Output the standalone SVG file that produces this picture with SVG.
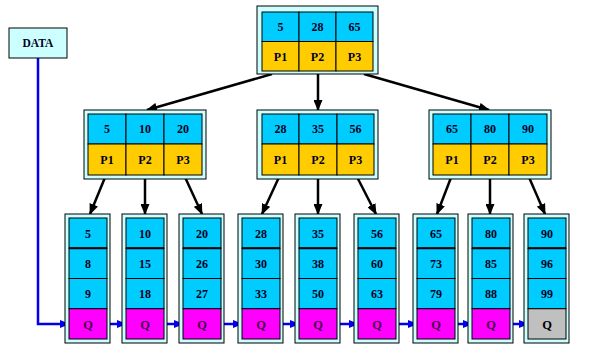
<svg xmlns="http://www.w3.org/2000/svg" width="606" height="353" viewBox="0 0 606 353">
<style>
.frame{fill:#ccffff;stroke:#000;stroke-width:1}
.k{fill:#00ccff;stroke:#000;stroke-width:1}
.p{fill:#ffcc00;stroke:#000;stroke-width:1}
.q{fill:#ff00ff;stroke:#000;stroke-width:1}
.nil{fill:#c0c0c0;stroke:#000;stroke-width:1}
.sep{stroke:#000;stroke-width:2}
text{font-family:"Liberation Serif","Times New Roman",serif;font-weight:bold;font-size:12px;text-anchor:middle;fill:#000022}
text.ql{font-weight:bold;font-size:12.5px;fill:#4a004a}
.ar{stroke:#000;stroke-width:2.5;fill:none;marker-end:url(#ah)}
.bl{stroke:#0000ee;stroke-width:2.5;fill:none;marker-end:url(#bh)}
</style>
<defs>
<marker id="ah" markerUnits="userSpaceOnUse" markerWidth="11" markerHeight="9" refX="10" refY="4.5" orient="auto"><path d="M0,0 L11,4.5 L0,9 z" fill="#000"/></marker>
<marker id="bh" markerUnits="userSpaceOnUse" markerWidth="10" markerHeight="8" refX="9" refY="4" orient="auto"><path d="M0,0 L10,4 L0,8 z" fill="#0000ee"/></marker>
</defs>
<rect width="606" height="353" fill="#fff"/>

<g id="connectors">
<line class="ar" x1="272" y1="74" x2="147" y2="110"/>
<line class="ar" x1="318" y1="74" x2="318" y2="110"/>
<line class="ar" x1="364" y1="74" x2="489" y2="110"/>
<line class="ar" x1="106" y1="175" x2="90" y2="214"/>
<line class="ar" x1="145" y1="175" x2="145" y2="214"/>
<line class="ar" x1="184" y1="175" x2="202" y2="214"/>
<line class="ar" x1="280" y1="175" x2="262" y2="214"/>
<line class="ar" x1="318" y1="175" x2="318" y2="214"/>
<line class="ar" x1="356" y1="175" x2="376" y2="214"/>
<line class="ar" x1="452" y1="175" x2="437" y2="214"/>
<line class="ar" x1="490" y1="175" x2="490" y2="214"/>
<line class="ar" x1="528" y1="175" x2="545" y2="214"/>
<path class="bl" d="M38,58 V324 H69"/>
<line class="bl" x1="107" y1="324" x2="126" y2="324"/>
<line class="bl" x1="164" y1="324" x2="183" y2="324"/>
<line class="bl" x1="221" y1="324" x2="242" y2="324"/>
<line class="bl" x1="280" y1="324" x2="299" y2="324"/>
<line class="bl" x1="337" y1="324" x2="358" y2="324"/>
<line class="bl" x1="396" y1="324" x2="417" y2="324"/>
<line class="bl" x1="455" y1="324" x2="472" y2="324"/>
<line class="bl" x1="510" y1="324" x2="528" y2="324"/>
</g>

<g id="data">
<rect x="9" y="28" width="58" height="30" fill="#ccffff" stroke="#000"/>
<text x="38" y="47" style="font-size:11.5px">DATA</text>
</g>

<g id="root">
<rect class="frame" x="257" y="6" width="121" height="68"/>
<rect class="k" x="262" y="12" width="37" height="29.5"/><rect class="k" x="299" y="12" width="37" height="29.5"/><rect class="k" x="336" y="12" width="37" height="29.5"/>
<rect class="p" x="262" y="41.5" width="37" height="29.5"/><rect class="p" x="299" y="41.5" width="37" height="29.5"/><rect class="p" x="336" y="41.5" width="37" height="29.5"/>
<text x="280.5" y="31">5</text><text x="317.5" y="31">28</text><text x="354.5" y="31">65</text>
<text x="280.5" y="60.5">P1</text><text x="317.5" y="60.5">P2</text><text x="354.5" y="60.5">P3</text>
</g>

<g id="n-left">
<rect class="frame" x="84" y="110" width="122" height="69"/>
<rect class="k" x="88" y="114" width="38" height="30"/><rect class="k" x="126" y="114" width="38" height="30"/><rect class="k" x="164" y="114" width="38" height="30"/>
<rect class="p" x="88" y="144" width="38" height="31"/><rect class="p" x="126" y="144" width="38" height="31"/><rect class="p" x="164" y="144" width="38" height="31"/>
<text x="107" y="133">5</text><text x="145" y="133">10</text><text x="183" y="133">20</text>
<text x="107" y="163.5">P1</text><text x="145" y="163.5">P2</text><text x="183" y="163.5">P3</text>
</g>

<g id="n-mid">
<rect class="frame" x="257" y="110" width="121" height="69"/>
<rect class="k" x="262" y="114" width="37" height="30"/><rect class="k" x="299" y="114" width="38" height="30"/><rect class="k" x="337" y="114" width="37" height="30"/>
<rect class="p" x="262" y="144" width="37" height="31"/><rect class="p" x="299" y="144" width="38" height="31"/><rect class="p" x="337" y="144" width="37" height="31"/>
<text x="280.5" y="133">28</text><text x="318" y="133">35</text><text x="355.5" y="133">56</text>
<text x="280.5" y="163.5">P1</text><text x="318" y="163.5">P2</text><text x="355.5" y="163.5">P3</text>
</g>

<g id="n-right">
<rect class="frame" x="429" y="110" width="122" height="69"/>
<rect class="k" x="433" y="114" width="38" height="30"/><rect class="k" x="471" y="114" width="38" height="30"/><rect class="k" x="509" y="114" width="38" height="30"/>
<rect class="p" x="433" y="144" width="38" height="31"/><rect class="p" x="471" y="144" width="38" height="31"/><rect class="p" x="509" y="144" width="38" height="31"/>
<text x="452" y="133">65</text><text x="490" y="133">80</text><text x="528" y="133">90</text>
<text x="452" y="163.5">P1</text><text x="490" y="163.5">P2</text><text x="528" y="163.5">P3</text>
</g>

<g id="leaf1" transform="translate(65,214)">
<rect class="frame" width="45" height="129"/>
<rect class="k" x="4" y="4" width="38" height="30.25"/><rect class="k" x="4" y="34.25" width="38" height="30.25"/><rect class="k" x="4" y="64.5" width="38" height="30.25"/><rect class="q" x="4" y="94.75" width="38" height="30.25"/>
<line class="sep" x1="4" y1="34.25" x2="42" y2="34.25"/>
<text x="23" y="23.5">5</text><text x="23" y="54">8</text><text x="23" y="84">9</text><text class="ql" x="23" y="115">Q</text>
</g>
<g id="leaf2" transform="translate(122,214)">
<rect class="frame" width="45" height="129"/>
<rect class="k" x="4" y="4" width="38" height="30.25"/><rect class="k" x="4" y="34.25" width="38" height="30.25"/><rect class="k" x="4" y="64.5" width="38" height="30.25"/><rect class="q" x="4" y="94.75" width="38" height="30.25"/>
<line class="sep" x1="4" y1="34.25" x2="42" y2="34.25"/>
<text x="23" y="23.5">10</text><text x="23" y="54">15</text><text x="23" y="84">18</text><text class="ql" x="23" y="115">Q</text>
</g>
<g id="leaf3" transform="translate(179,214)">
<rect class="frame" width="45" height="129"/>
<rect class="k" x="4" y="4" width="38" height="30.25"/><rect class="k" x="4" y="34.25" width="38" height="30.25"/><rect class="k" x="4" y="64.5" width="38" height="30.25"/><rect class="q" x="4" y="94.75" width="38" height="30.25"/>
<line class="sep" x1="4" y1="34.25" x2="42" y2="34.25"/>
<text x="23" y="23.5">20</text><text x="23" y="54">26</text><text x="23" y="84">27</text><text class="ql" x="23" y="115">Q</text>
</g>
<g id="leaf4" transform="translate(238,214)">
<rect class="frame" width="45" height="129"/>
<rect class="k" x="4" y="4" width="38" height="30.25"/><rect class="k" x="4" y="34.25" width="38" height="30.25"/><rect class="k" x="4" y="64.5" width="38" height="30.25"/><rect class="q" x="4" y="94.75" width="38" height="30.25"/>
<line class="sep" x1="4" y1="34.25" x2="42" y2="34.25"/>
<text x="23" y="23.5">28</text><text x="23" y="54">30</text><text x="23" y="84">33</text><text class="ql" x="23" y="115">Q</text>
</g>
<g id="leaf5" transform="translate(295,214)">
<rect class="frame" width="45" height="129"/>
<rect class="k" x="4" y="4" width="38" height="30.25"/><rect class="k" x="4" y="34.25" width="38" height="30.25"/><rect class="k" x="4" y="64.5" width="38" height="30.25"/><rect class="q" x="4" y="94.75" width="38" height="30.25"/>
<line class="sep" x1="4" y1="34.25" x2="42" y2="34.25"/>
<text x="23" y="23.5">35</text><text x="23" y="54">38</text><text x="23" y="84">50</text><text class="ql" x="23" y="115">Q</text>
</g>
<g id="leaf6" transform="translate(354,214)">
<rect class="frame" width="45" height="129"/>
<rect class="k" x="4" y="4" width="38" height="30.25"/><rect class="k" x="4" y="34.25" width="38" height="30.25"/><rect class="k" x="4" y="64.5" width="38" height="30.25"/><rect class="q" x="4" y="94.75" width="38" height="30.25"/>
<line class="sep" x1="4" y1="34.25" x2="42" y2="34.25"/>
<text x="23" y="23.5">56</text><text x="23" y="54">60</text><text x="23" y="84">63</text><text class="ql" x="23" y="115">Q</text>
</g>
<g id="leaf7" transform="translate(413,214)">
<rect class="frame" width="45" height="129"/>
<rect class="k" x="4" y="4" width="38" height="30.25"/><rect class="k" x="4" y="34.25" width="38" height="30.25"/><rect class="k" x="4" y="64.5" width="38" height="30.25"/><rect class="q" x="4" y="94.75" width="38" height="30.25"/>
<line class="sep" x1="4" y1="34.25" x2="42" y2="34.25"/>
<text x="23" y="23.5">65</text><text x="23" y="54">73</text><text x="23" y="84">79</text><text class="ql" x="23" y="115">Q</text>
</g>
<g id="leaf8" transform="translate(468,214)">
<rect class="frame" width="45" height="129"/>
<rect class="k" x="4" y="4" width="38" height="30.25"/><rect class="k" x="4" y="34.25" width="38" height="30.25"/><rect class="k" x="4" y="64.5" width="38" height="30.25"/><rect class="q" x="4" y="94.75" width="38" height="30.25"/>
<line class="sep" x1="4" y1="34.25" x2="42" y2="34.25"/>
<text x="23" y="23.5">80</text><text x="23" y="54">85</text><text x="23" y="84">88</text><text class="ql" x="23" y="115">Q</text>
</g>
<g id="leaf9" transform="translate(524,214)">
<rect class="frame" width="45" height="129"/>
<rect class="k" x="4" y="4" width="38" height="30.25"/><rect class="k" x="4" y="34.25" width="38" height="30.25"/><rect class="k" x="4" y="64.5" width="38" height="30.25"/><rect class="nil" x="4" y="94.75" width="38" height="30.25"/>
<line class="sep" x1="4" y1="34.25" x2="42" y2="34.25"/>
<text x="23" y="23.5">90</text><text x="23" y="54">96</text><text x="23" y="84">99</text><text class="ql" x="23" y="115" style="fill:#000">Q</text>
</g>
</svg>
